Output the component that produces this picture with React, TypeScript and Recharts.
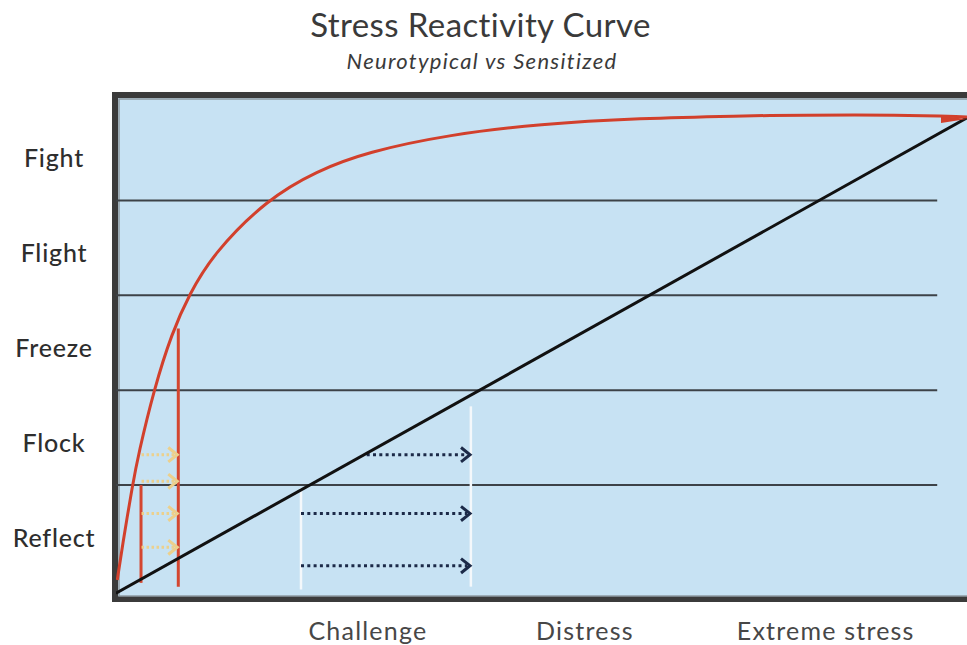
import {
  LineChart,
  Line,
  XAxis,
  YAxis,
  CartesianGrid,
  ReferenceLine,
  ReferenceArea,
} from "recharts";

if (typeof document !== "undefined") document.body.style.margin = "0";

// response levels (y bands) and stress stages (x labels)
const levels = ["Reflect", "Flock", "Freeze", "Flight", "Fight"];
const levelCenters = [0.5, 1.5, 2.5, 3.5, 4.5];
const levelBounds = [1, 2, 3, 4];

const stages = ["Challenge", "Distress", "Extreme stress"];
const stagePositions = [29.6, 55.1, 83.4];

// neurotypical: straight line
const neuroStress = [0, 100];
const neurotypical = [-0.14, 4.87];

// sensitized: steep curve
const sensStress = [
  0.15, 0.73, 1.96, 2.62, 4.47, 6.55, 8.61, 11.43, 17.71, 23.58, 29.46, 39.25,
  49.82, 61.57, 73.33, 80.38, 92.1, 100,
];
const sensitized = [
  0.0, 0.35, 1.01, 1.32, 2.01, 2.6, 3.01, 3.44, 4.01, 4.31, 4.51, 4.695, 4.805,
  4.865, 4.89, 4.9, 4.9, 4.88,
];

// red threshold markers
const thresholdX = [2.94, 7.32];
const thresholdTop = [1.0, 2.65];
const thresholdBottom = [-0.03, -0.07];

// white window markers
const windowX = [21.74, 41.7];
const windowTop = [0.97, 1.83];
const windowBottom = [-0.1, -0.07];

// tan arrows (sensitized)
const tanLevels = [1.32, 1.04, 0.7, 0.345];
const tanFrom = 3.0;
const tanTo = 7.2;

// navy arrows (neurotypical)
const navyLevels = [1.32, 0.7, 0.15];
const navyFrom = [29.46, 21.74, 21.74];
const navyTo = 41.6;

const neuroData = neuroStress.map((x, i) => ({ x, y: neurotypical[i] }));
const sensData = sensStress.map((x, i) => ({ x, y: sensitized[i] }));

const FONT = "Lato, 'Open Sans', sans-serif";

const StageTick = ({ x, y, payload }: any) => (
  <text
    x={x}
    y={y + 41}
    textAnchor="middle"
    fontFamily={FONT}
    fontSize={25}
    letterSpacing={1.2}
    fill="#474747"
  >
    {stages[stagePositions.indexOf(payload.value)]}
  </text>
);

const LevelTick = ({ x, y, payload }: any) => (
  <text
    x={x - 62}
    y={y + 14}
    textAnchor="middle"
    fontFamily={FONT}
    fontSize={25}
    fontWeight={500}
    letterSpacing={0.8}
    fill="#2e2e2e"
  >
    {levels[levelCenters.indexOf(payload.value)]}
  </text>
);

const arrowShape = (head: number) => (props: any) => {
  const { x1, y1, x2, y2, stroke, strokeWidth, strokeDasharray } = props;
  return (
    <g>
      <line
        x1={x1}
        y1={y1}
        x2={x2 - 3}
        y2={y2}
        stroke={stroke}
        strokeWidth={strokeWidth}
        strokeDasharray={strokeDasharray}
      />
      <polyline
        points={`${x2 - head},${y2 - head * 0.8} ${x2},${y2} ${x2 - head},${
          y2 + head * 0.8
        }`}
        fill="none"
        stroke={stroke}
        strokeWidth={strokeWidth}
      />
    </g>
  );
};

const frameShape = (props: any) => {
  const { x, y, width, height } = props;
  return (
    <g>
      <path
        d={`M${x + width},${y - 1} H${x - 1} V${y + height} H${x + width}`}
        fill="none"
        stroke="#3b3b3b"
        strokeWidth={6}
      />
      <path
        d={`M${x + width},${y + 3} H${x + 3} V${y + height - 3} H${x + width}`}
        fill="none"
        stroke="#8f9aa3"
        strokeWidth={1.5}
      />
    </g>
  );
};

const ArrowDot = (props: any) => {
  const { cx, cy, index } = props;
  if (index !== sensData.length - 1) return <g key={index} />;
  return (
    <path
      key={index}
      d={`M${cx},${cy + 2} L${cx - 26},${cy - 1} L${cx - 26},${cy + 6} Z`}
      fill="#d2402c"
    />
  );
};

export default function App() {
  return (
    <div style={{ position: "relative", width: 967, height: 645, overflow: "hidden", background: "#fff" }}>
      <div
        style={{
          position: "absolute",
          left: 0,
          top: 4,
          width: 961,
          textAlign: "center",
          fontFamily: FONT,
          fontSize: 33,
          letterSpacing: 0.4,
          color: "#3a3a3a",
        }}
      >
        Stress Reactivity Curve
      </div>
      <div
        style={{
          position: "absolute",
          left: 0,
          top: 47,
          width: 964,
          textAlign: "center",
          fontFamily: FONT,
          fontSize: 22,
          fontStyle: "italic",
          letterSpacing: 1.3,
          color: "#3a3a3a",
        }}
      >
        Neurotypical vs Sensitized
      </div>
      <LineChart
        width={967}
        height={645}
        margin={{ top: 96, right: 0, left: 0, bottom: 16 }}
      >
        <CartesianGrid horizontal={false} vertical={false} fill="#c7e2f3" />
        <XAxis
          type="number"
          dataKey="x"
          domain={[0, 100]}
          allowDataOverflow
          ticks={stagePositions}
          interval={0}
          axisLine={false}
          tickLine={false}
          tickSize={0}
          tickMargin={0}
          height={30}
          tick={<StageTick />}
        />
        <YAxis
          type="number"
          domain={[-0.2, 5.1]}
          allowDataOverflow
          ticks={levelCenters}
          interval={0}
          axisLine={false}
          tickLine={false}
          tickSize={0}
          tickMargin={0}
          width={116}
          tick={<LevelTick />}
        />
        {levelBounds.map((b) => (
          <ReferenceLine
            key={`b${b}`}
            segment={[
              { x: 0, y: b },
              { x: 96.5, y: b },
            ]}
            stroke="#3d4247"
            strokeWidth={2}
          />
        ))}
        {windowX.map((wx, i) => (
          <ReferenceLine
            key={`w${i}`}
            segment={[
              { x: wx, y: windowTop[i] },
              { x: wx, y: windowBottom[i] },
            ]}
            stroke="#f4f8fb"
            strokeWidth={2.5}
          />
        ))}
        {thresholdX.map((tx, i) => (
          <ReferenceLine
            key={`t${i}`}
            segment={[
              { x: tx, y: thresholdTop[i] },
              { x: tx, y: thresholdBottom[i] },
            ]}
            stroke="#d4462f"
            strokeWidth={3}
          />
        ))}
        {tanLevels.map((ty, i) => (
          <ReferenceLine
            key={`ta${i}`}
            segment={[
              { x: tanFrom, y: ty },
              { x: tanTo, y: ty },
            ]}
            stroke="#ecd08c"
            strokeWidth={3}
            strokeDasharray="2.5 2.5"
            shape={arrowShape(9)}
          />
        ))}
        {navyLevels.map((ny, i) => (
          <ReferenceLine
            key={`na${i}`}
            segment={[
              { x: navyFrom[i], y: ny },
              { x: navyTo, y: ny },
            ]}
            stroke="#1c2a48"
            strokeWidth={3}
            strokeDasharray="3 3.3"
            shape={arrowShape(9)}
          />
        ))}
        <Line
          data={neuroData}
          dataKey="y"
          type="linear"
          stroke="#111111"
          strokeWidth={3}
          dot={false}
          activeDot={false}
          isAnimationActive={false}
        />
        <Line
          data={sensData}
          dataKey="y"
          type="basis"
          stroke="#d2402c"
          strokeWidth={3}
          dot={ArrowDot}
          activeDot={false}
          isAnimationActive={false}
        />
        <ReferenceArea
          x1={0}
          x2={100}
          y1={-0.2}
          y2={5.1}
          fill="none"
          shape={frameShape}
        />
      </LineChart>
    </div>
  );
}
